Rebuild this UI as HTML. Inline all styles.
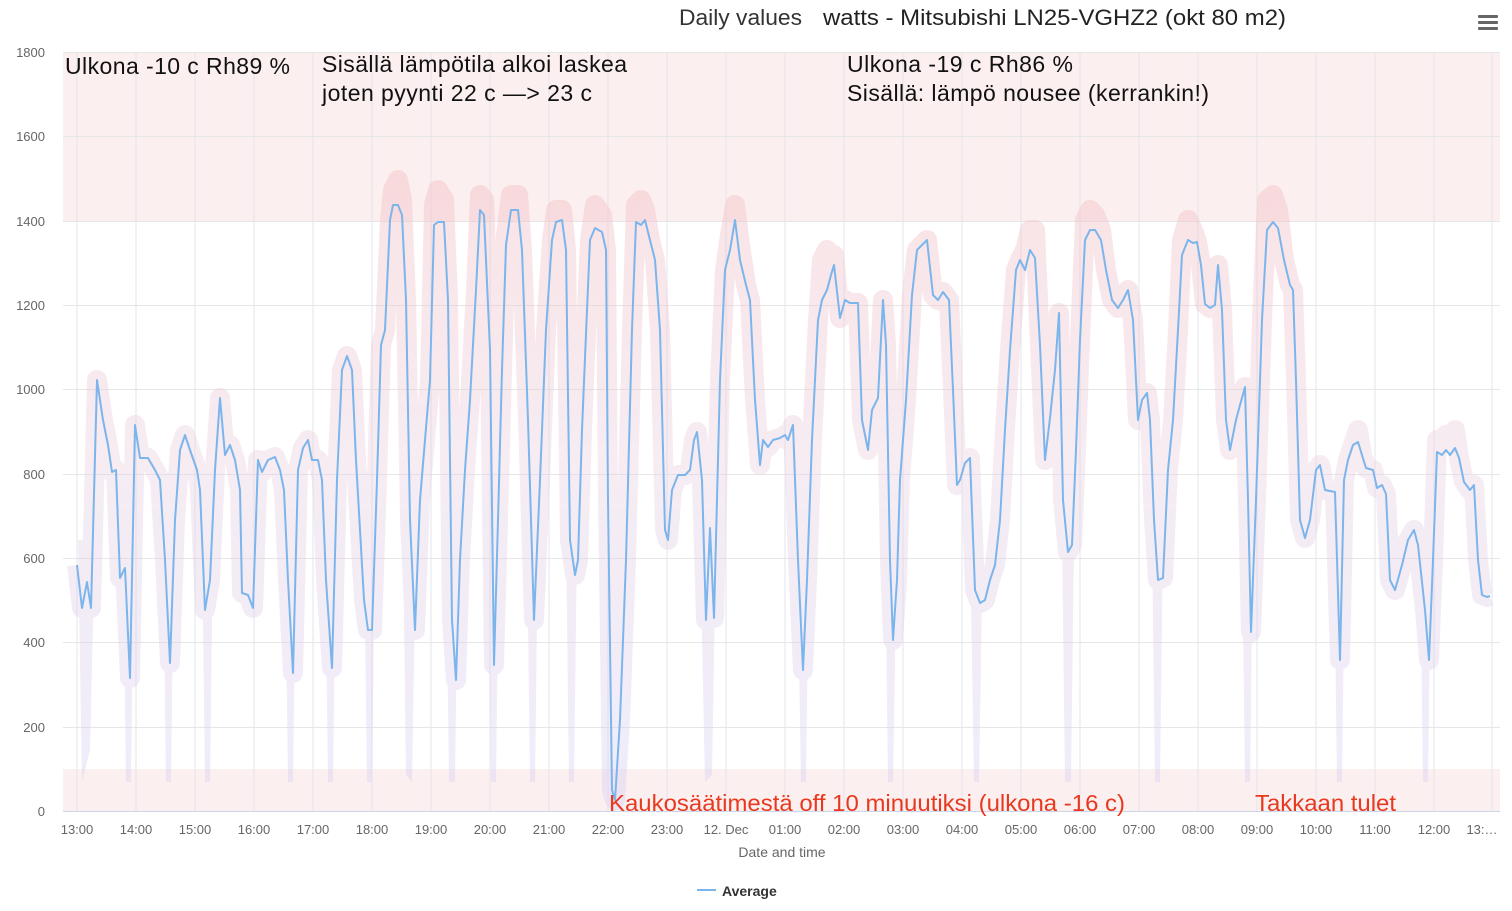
<!DOCTYPE html>
<html><head><meta charset="utf-8"><style>
body{margin:0;background:#fff;width:1512px;height:906px;overflow:hidden;font-family:"Liberation Sans",sans-serif}
</style></head><body>
<svg width="1512" height="906" xmlns="http://www.w3.org/2000/svg" font-family="Liberation Sans, sans-serif">
<defs>
<linearGradient id="g" gradientUnits="userSpaceOnUse" x1="0" y1="150" x2="0" y2="790">
<stop offset="0" stop-color="#f2b8bc"/><stop offset="0.5" stop-color="#e8d0e0"/><stop offset="1" stop-color="#d8d0f4"/>
</linearGradient>
</defs>
<rect x="63" y="52" width="1437" height="169" fill="#fcefef"/>
<rect x="63" y="769" width="1437" height="42" fill="#fcefef"/>
<g stroke="#e6e6e6" stroke-width="1">
<line x1="63" x2="1500" y1="52.5" y2="52.5"/><line x1="63" x2="1500" y1="136.5" y2="136.5"/><line x1="63" x2="1500" y1="221.5" y2="221.5"/><line x1="63" x2="1500" y1="305.5" y2="305.5"/><line x1="63" x2="1500" y1="389.5" y2="389.5"/><line x1="63" x2="1500" y1="474.5" y2="474.5"/><line x1="63" x2="1500" y1="558.5" y2="558.5"/><line x1="63" x2="1500" y1="642.5" y2="642.5"/><line x1="63" x2="1500" y1="727.5" y2="727.5"/>
</g>
<g stroke="#e3e6ee" stroke-width="1">
<line x1="77" x2="77" y1="52" y2="811"/><line x1="136" x2="136" y1="52" y2="811"/><line x1="195" x2="195" y1="52" y2="811"/><line x1="254" x2="254" y1="52" y2="811"/><line x1="313" x2="313" y1="52" y2="811"/><line x1="372" x2="372" y1="52" y2="811"/><line x1="431" x2="431" y1="52" y2="811"/><line x1="490" x2="490" y1="52" y2="811"/><line x1="549" x2="549" y1="52" y2="811"/><line x1="608" x2="608" y1="52" y2="811"/><line x1="667" x2="667" y1="52" y2="811"/><line x1="726" x2="726" y1="52" y2="811"/><line x1="785" x2="785" y1="52" y2="811"/><line x1="844" x2="844" y1="52" y2="811"/><line x1="903" x2="903" y1="52" y2="811"/><line x1="962" x2="962" y1="52" y2="811"/><line x1="1021" x2="1021" y1="52" y2="811"/><line x1="1080" x2="1080" y1="52" y2="811"/><line x1="1139" x2="1139" y1="52" y2="811"/><line x1="1198" x2="1198" y1="52" y2="811"/><line x1="1257" x2="1257" y1="52" y2="811"/><line x1="1316" x2="1316" y1="52" y2="811"/><line x1="1375" x2="1375" y1="52" y2="811"/><line x1="1434" x2="1434" y1="52" y2="811"/><line x1="1492" x2="1492" y1="52" y2="811"/>
</g>
<line x1="63" x2="1500" y1="811.5" y2="811.5" stroke="#ccd6eb"/>
<g opacity="0.4" fill="url(#g)">
<polyline fill="none" stroke="url(#g)" stroke-width="20" stroke-linejoin="round" stroke-linecap="butt" points="77,565 82,608 87,582 91,608 97,380 103,420 108,445 112,472 116,470 120,578 125,568 130,678 135,425 140,458 148,458 155,470 160,480 165,560 170,663 175,520 180,450 185,435 190,450 197,470 200,490 205,610 210,580 215,470 220,398 225,455 230,445 235,460 240,490 242,593 248,595 253,608 258,460 262,472 268,460 275,457 280,470 284,490 288,580 293,673 298,470 303,448 308,440 312,460 318,460 322,480 326,580 332,668 337,480 342,370 347,356 352,370 356,460 360,530 364,600 368,630 372,630 377,480 381,345 385,330 390,220 393,190 398,180 402,200 406,300 410,520 415,630 420,500 425,440 430,380 434,205 438,190 444,200 448,300 452,620 456,680 460,560 465,470 470,400 476,290 480,195 484,200 490,350 494,665 498,520 502,370 506,235 511,195 518,195 522,250 528,420 534,620 540,480 546,330 552,240 556,210 562,210 566,250 570,540 575,575 578,560 582,430 587,310 590,240 595,205 602,215 606,250 608,500 612,790 615,800 620,720 626,560 632,330 636,205 641,200 645,210 650,240 655,260 660,330 665,530 668,540 672,490 678,475 685,475 690,470 694,440 697,432 702,480 706,620 710,528 714,618 720,380 725,270 730,235 735,205 740,245 746,285 750,300 755,400 760,465 763,440 768,447 773,440 780,438 785,435 788,440 793,425 798,560 803,670 807,580 812,440 818,320 822,260 827,250 831,265 834,255 840,318 845,300 850,303 858,303 862,420 868,450 872,410 878,398 883,300 886,345 890,560 893,640 897,580 900,480 906,400 912,295 917,250 922,245 927,240 933,295 938,300 943,292 949,300 953,390 957,485 960,480 965,463 970,458 975,590 980,603 985,600 990,580 995,565 1000,520 1005,430 1010,350 1016,270 1020,260 1025,250 1030,230 1035,230 1040,345 1045,460 1050,418 1055,370 1059,313 1063,500 1068,552 1072,545 1076,450 1080,340 1085,220 1090,210 1095,215 1101,230 1106,270 1112,300 1118,308 1123,300 1128,290 1133,320 1138,420 1142,400 1147,393 1150,420 1154,520 1158,580 1163,578 1168,470 1173,420 1178,330 1182,240 1188,220 1193,230 1197,242 1201,265 1205,304 1210,308 1215,305 1218,265 1222,310 1226,420 1230,450 1236,420 1240,405 1245,387 1248,500 1251,632 1256,500 1262,320 1267,200 1273,195 1278,210 1284,260 1290,285 1293,290 1296,380 1300,520 1305,538 1310,520 1316,470 1320,465 1325,490 1335,492 1340,660 1344,480 1348,460 1353,445 1358,430 1362,455 1366,468 1373,470 1377,488 1382,485 1386,494 1390,580 1395,590 1402,565 1408,540 1414,530 1418,545 1425,610 1429,660 1433,560 1437,440 1442,440 1446,435 1450,440 1455,430 1459,458 1464,482 1470,490 1474,485 1478,560 1482,595 1487,597 1490,596"/>
<polygon points="78,540 82,782 90,750 95,540"/>
<polygon points="123,540 126,782 131,782 134,540"/>
<polygon points="163,540 166,782 171,782 174,540"/>
<polygon points="202,540 205,782 210,782 213,540"/>
<polygon points="285,540 288,782 293,782 296,540"/>
<polygon points="325,540 328,782 333,782 336,540"/>
<polygon points="364,540 367,782 372,782 375,540"/>
<polygon points="403,540 406,775 412,782 416,540"/>
<polygon points="446,540 449,782 455,782 458,540"/>
<polygon points="488,540 491,782 496,782 499,540"/>
<polygon points="527,540 530,782 535,782 538,540"/>
<polygon points="566,540 569,782 574,782 577,540"/>
<polygon points="700,540 705,782 712,775 716,540"/>
<polygon points="797,540 801,782 806,782 809,540"/>
<polygon points="885,540 888,782 893,782 897,540"/>
<polygon points="970,540 974,782 979,782 983,540"/>
<polygon points="1062,540 1065,782 1071,782 1074,540"/>
<polygon points="1152,540 1155,782 1160,782 1163,540"/>
<polygon points="1242,540 1245,782 1250,782 1253,540"/>
<polygon points="1334,540 1337,782 1342,782 1345,540"/>
<polygon points="1420,540 1423,782 1428,782 1431,540"/>
</g>
<polyline fill="none" stroke="#7cb5ec" stroke-width="2" stroke-linejoin="round" points="77,565 82,608 87,582 91,608 97,380 103,420 108,445 112,472 116,470 120,578 125,568 130,678 135,425 140,458 148,458 155,470 160,480 165,560 170,663 175,520 180,450 185,435 190,450 197,470 200,490 205,610 210,580 215,470 220,398 225,455 230,445 235,460 240,490 242,593 248,595 253,608 258,460 262,472 268,460 275,457 280,470 284,490 288,580 293,673 298,470 303,448 308,440 312,460 318,460 322,480 326,580 332,668 337,480 342,370 347,356 352,370 356,460 360,530 364,600 368,630 372,630 377,480 381,345 385,330 390,220 393,205 398,205 402,215 406,300 410,520 415,630 420,500 425,440 430,380 434,225 438,222 444,222 448,300 452,620 456,680 460,560 465,470 470,400 476,290 480,210 484,215 490,350 494,665 498,520 502,370 506,245 511,210 518,210 522,250 528,420 534,620 540,480 546,330 552,240 556,222 562,220 566,250 570,540 575,575 578,560 582,430 587,310 590,240 595,228 602,232 606,250 608,500 612,790 615,800 620,720 626,560 632,330 636,222 641,225 645,220 650,240 655,260 660,330 665,530 668,540 672,490 678,475 685,475 690,470 694,440 697,432 702,480 706,620 710,528 714,618 720,380 725,270 730,250 735,220 740,260 746,285 750,300 755,400 760,465 763,440 768,447 773,440 780,438 785,435 788,440 793,425 798,560 803,670 807,580 812,440 818,320 822,300 827,290 831,275 834,265 840,318 845,300 850,303 858,303 862,420 868,450 872,410 878,398 883,300 886,345 890,560 893,640 897,580 900,480 906,400 912,295 917,250 922,245 927,240 933,295 938,300 943,292 949,300 953,390 957,485 960,480 965,463 970,458 975,590 980,603 985,600 990,580 995,565 1000,520 1005,430 1010,350 1016,270 1020,260 1025,270 1030,250 1035,258 1040,345 1045,460 1050,418 1055,370 1059,313 1063,500 1068,552 1072,545 1076,450 1080,340 1085,240 1090,230 1095,230 1101,240 1106,270 1112,300 1118,308 1123,300 1128,290 1133,320 1138,420 1142,400 1147,393 1150,420 1154,520 1158,580 1163,578 1168,470 1173,420 1178,330 1182,255 1188,240 1193,243 1197,242 1201,265 1205,304 1210,308 1215,305 1218,265 1222,310 1226,420 1230,450 1236,420 1240,405 1245,387 1248,500 1251,632 1256,500 1262,320 1267,230 1273,222 1278,228 1284,260 1290,285 1293,290 1296,380 1300,520 1305,538 1310,520 1316,470 1320,465 1325,490 1335,492 1340,660 1344,480 1348,460 1353,445 1358,442 1362,455 1366,468 1373,470 1377,488 1382,485 1386,494 1390,580 1395,590 1402,565 1408,540 1414,530 1418,545 1425,610 1429,660 1433,560 1437,452 1442,455 1446,450 1450,455 1455,448 1459,458 1464,482 1470,490 1474,485 1478,560 1482,595 1487,597 1490,596"/>
<g font-size="13" fill="#666" text-anchor="end">
<text x="45" y="57">1800</text><text x="45" y="141">1600</text><text x="45" y="226">1400</text><text x="45" y="310">1200</text><text x="45" y="394">1000</text><text x="45" y="479">800</text><text x="45" y="563">600</text><text x="45" y="647">400</text><text x="45" y="732">200</text><text x="45" y="816">0</text>
</g>
<g font-size="13" fill="#666" text-anchor="middle">
<text x="77" y="834">13:00</text><text x="136" y="834">14:00</text><text x="195" y="834">15:00</text><text x="254" y="834">16:00</text><text x="313" y="834">17:00</text><text x="372" y="834">18:00</text><text x="431" y="834">19:00</text><text x="490" y="834">20:00</text><text x="549" y="834">21:00</text><text x="608" y="834">22:00</text><text x="667" y="834">23:00</text><text x="726" y="834">12. Dec</text><text x="785" y="834">01:00</text><text x="844" y="834">02:00</text><text x="903" y="834">03:00</text><text x="962" y="834">04:00</text><text x="1021" y="834">05:00</text><text x="1080" y="834">06:00</text><text x="1139" y="834">07:00</text><text x="1198" y="834">08:00</text><text x="1257" y="834">09:00</text><text x="1316" y="834">10:00</text><text x="1375" y="834">11:00</text><text x="1434" y="834">12:00</text><text x="1482" y="834">13:…</text>
<text x="782" y="857" font-size="14">Date and time</text>
</g>
<line x1="697" x2="716" y1="890" y2="890" stroke="#7cb5ec" stroke-width="2"/>
<text x="722" y="896" font-size="14" font-weight="bold" fill="#333">Average</text>
<text x="679" y="25" font-size="22" fill="#333" textLength="123" lengthAdjust="spacingAndGlyphs">Daily values</text>
<text x="823" y="25" font-size="22" fill="#222" textLength="463" lengthAdjust="spacingAndGlyphs">watts - Mitsubishi LN25-VGHZ2 (okt 80 m2)</text>
<g fill="#666"><rect x="1478" y="15" width="20" height="3" rx="1"/><rect x="1478" y="21" width="20" height="3" rx="1"/><rect x="1478" y="27" width="20" height="3" rx="1"/></g>
<g font-size="23" fill="#111" lengthAdjust="spacingAndGlyphs">
<text x="65" y="74" textLength="225">Ulkona -10 c Rh89 %</text>
<text x="322" y="72" textLength="305">Sisällä lämpötila alkoi laskea</text>
<text x="322" y="101" textLength="270">joten pyynti 22 c —&gt; 23 c</text>
<text x="847" y="72" textLength="226">Ulkona -19 c Rh86 %</text>
<text x="847" y="101" textLength="362">Sisällä: lämpö nousee (kerrankin!)</text>
</g>
<g font-size="23" fill="#e8391f">
<text x="609" y="811" textLength="516" lengthAdjust="spacingAndGlyphs">Kaukosäätimestä off 10 minuutiksi (ulkona -16 c)</text>
<text x="1255" y="811" textLength="141" lengthAdjust="spacingAndGlyphs">Takkaan tulet</text>
</g>
</svg>
</body></html>
